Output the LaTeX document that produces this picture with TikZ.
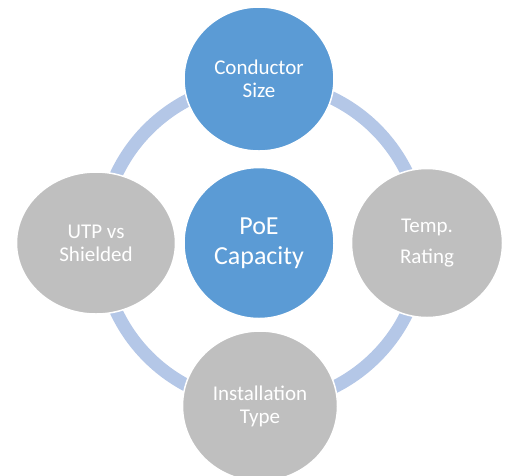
\documentclass[tikz,border=0pt]{standalone}
\usepackage{fontspec}
\setmainfont{Carlito}
\usetikzlibrary{shapes.geometric}

\definecolor{bubbleblue}{HTML}{5B9BD5}
\definecolor{bubblegray}{HTML}{BFBFBF}
\definecolor{ringblue}{HTML}{B4C7E7}

\begin{document}
\begin{tikzpicture}[x=1pt, y=-1pt,
        bubble/.style={ellipse, draw=white, line width=1.5pt, inner sep=0pt, align=center, text=white, font=\fontsize{21}{23}\selectfont},
        hubring/.style={draw=ringblue, line width=13pt}]
        \useasboundingbox (0,0) rectangle (513,475);
        \coordinate (hub) at (262,243);
        \draw[hubring] (hub) circle (161pt);
        \node[bubble, fill=bubbleblue, minimum width=150pt, minimum height=151pt, font=\fontsize{26}{30}\selectfont] (poe) at (259,243) {PoE\\Capacity};
        \node[bubble, fill=bubbleblue, minimum width=150pt, minimum height=144pt] (size) at (259,79) {Conductor\\Size};
        \node[bubble, fill=bubblegray, minimum width=159pt, minimum height=142pt] (utp) at (96,243) {UTP vs\\Shielded};
        \node[bubble, fill=bubblegray, minimum width=151pt, minimum height=149pt] (temp) at (427,243) {Temp.\\[8pt]Rating};
        \node[bubble, fill=bubblegray, minimum width=155pt, minimum height=150pt] (install) at (260,406) {Installation\\Type};
    \end{tikzpicture}
\end{document}
